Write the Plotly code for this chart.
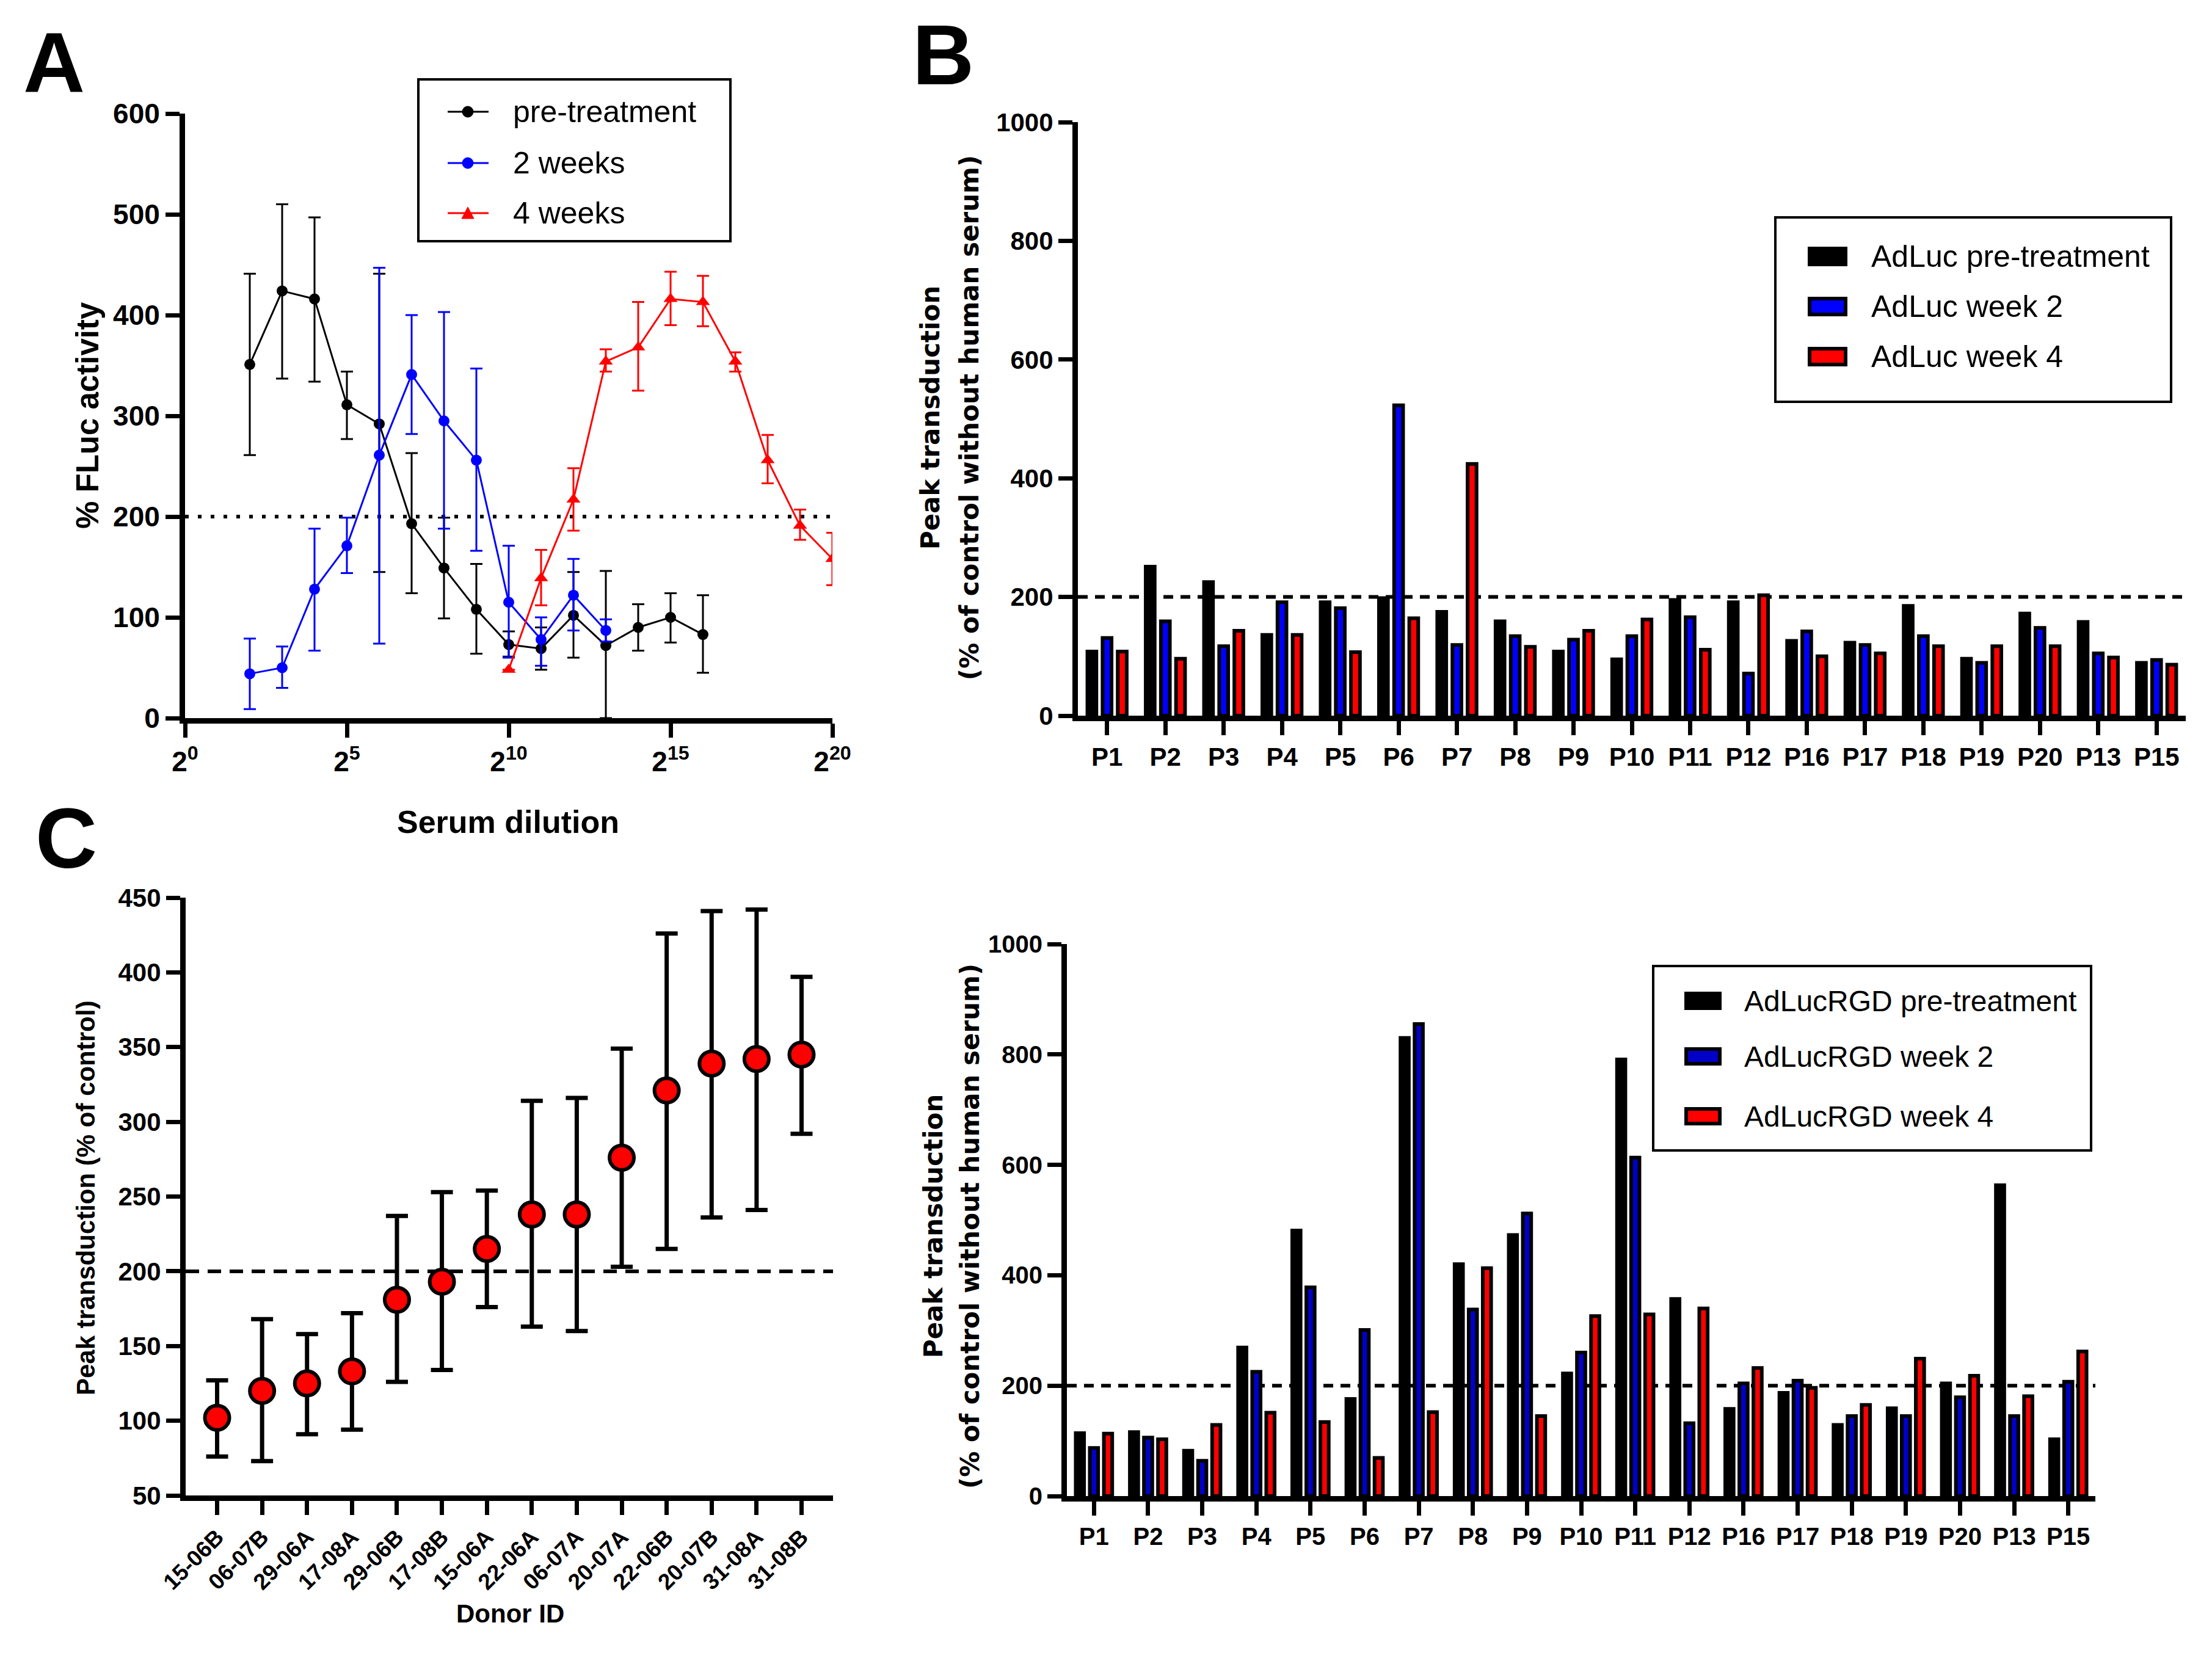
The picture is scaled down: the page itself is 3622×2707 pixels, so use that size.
import plotly.graph_objects as go

W, H = 3622, 2707


def X(px):
    return px / W


def Y(py):
    return 1 - py / H


FONT = "Liberation Sans, Arial, sans-serif"
WIDE = "DejaVu Sans, Verdana, sans-serif"

# ---- panel A: serum dilution curves (x = log2 of dilution) ----
pre_x = [2, 3, 4, 5, 6, 7, 8, 9, 10, 11, 12, 13, 14, 15, 16]
pre_y = [351, 424, 416, 311, 292, 193, 149, 108, 73, 69, 102, 72, 90, 100, 83]
pre_hi = [441, 510, 497, 344, 441, 263, 199, 153, 86, 90, 145, 146, 113, 124, 122]
pre_lo = [261, 337, 334, 277, 145, 124, 99, 64, 61, 48, 60, 0, 67, 75, 45]

wk2_x = [2, 3, 4, 5, 6, 7, 8, 9, 10, 11, 12, 13]
wk2_y = [44, 50, 128, 171, 261, 341, 295, 256, 115, 78, 122, 87]
wk2_hi = [79, 71, 188, 199, 447, 400, 403, 347, 171, 100, 158, 98]
wk2_lo = [9, 30, 67, 144, 74, 282, 188, 166, 60, 52, 87, 76]

wk4_x = [10, 11, 12, 13, 14, 15, 16, 17, 18, 19, 20]
wk4_y = [48, 139, 217, 354, 368, 416, 413, 354, 256, 191, 158]
wk4_hi = [48, 167, 248, 366, 413, 443, 439, 363, 281, 207, 184]
wk4_lo = [48, 112, 186, 344, 325, 390, 389, 344, 233, 177, 132]

a_tickvals = [0, 5, 10, 15, 20]
a_ticktext = ["2<sup>0</sup>", "2<sup>5</sup>", "2<sup>10</sup>", "2<sup>15</sup>", "2<sup>20</sup>"]

# ---- panels B and D: peak transduction per patient ----
patients = ["P1", "P2", "P3", "P4", "P5", "P6", "P7", "P8", "P9", "P10",
            "P11", "P12", "P16", "P17", "P18", "P19", "P20", "P13", "P15"]

adluc_pre = [108, 251, 225, 136, 191, 198, 175, 159, 108, 95,
             195, 191, 126, 123, 185, 96, 172, 158, 89]
adluc_wk2 = [131, 159, 117, 191, 181, 523, 119, 134, 128, 134,
             166, 71, 142, 119, 134, 89, 148, 105, 94]
adluc_wk4 = [108, 96, 143, 136, 107, 164, 424, 116, 143, 162,
             111, 203, 100, 105, 117, 117, 117, 98, 86]

rgd_pre = [114, 116, 82, 269, 481, 176, 830, 420, 473, 222,
           791, 357, 158, 187, 129, 159, 204, 563, 103]
rgd_wk2 = [87, 106, 64, 225, 378, 301, 855, 338, 512, 260,
           613, 132, 204, 209, 145, 145, 179, 145, 207]
rgd_wk4 = [113, 103, 129, 151, 134, 69, 152, 413, 145, 326,
           329, 340, 232, 196, 165, 249, 218, 181, 262]

# ---- panel C: peak transduction per donor ----
donors = ["15-06B", "06-07B", "29-06A", "17-08A", "29-06B", "17-08B", "15-06A",
          "22-06A", "06-07A", "20-07A", "22-06B", "20-07B", "31-08A", "31-08B"]
donor_mean = [102, 120, 125, 133, 181, 193, 215, 238, 238, 276, 321, 339, 342, 345]
donor_hi = [127, 168, 158, 172, 237, 253, 254, 314, 316, 349, 426, 441, 442, 397]
donor_lo = [76, 73, 91, 94, 126, 134, 176, 163, 160, 203, 215, 236, 241, 292]

fig = go.Figure()


def errs(mean, hi, lo):
    return dict(type="data", symmetric=False,
                array=[h - m for h, m in zip(hi, mean)],
                arrayminus=[m - l for m, l in zip(mean, lo)])


for xs, ys, hi, lo, col, sym, name in [
    (pre_x, pre_y, pre_hi, pre_lo, "black", "circle", "pre-treatment"),
    (wk2_x, wk2_y, wk2_hi, wk2_lo, "#0000ff", "circle", "2 weeks"),
    (wk4_x, wk4_y, wk4_hi, wk4_lo, "#ff0000", "triangle-up", "4 weeks"),
]:
    e = errs(ys, hi, lo)
    e.update(color=col, thickness=3, width=10)
    fig.add_trace(go.Scatter(
        x=xs, y=ys, name=name, mode="lines+markers",
        line=dict(color=col, width=3),
        marker=dict(color=col, symbol=sym, size=18 if sym == "circle" else 20),
        error_y=e, xaxis="x", yaxis="y", showlegend=False,
    ))

for vals, col, name in [(adluc_pre, "black", "AdLuc pre-treatment"),
                        (adluc_wk2, "#0000ff", "AdLuc week 2"),
                        (adluc_wk4, "#ff0000", "AdLuc week 4")]:
    fig.add_trace(go.Bar(x=patients, y=vals, name=name, xaxis="x2", yaxis="y2",
                         marker=dict(color=col, line=dict(color="black", width=6)),
                         showlegend=False))

for vals, col, name in [(rgd_pre, "black", "AdLucRGD pre-treatment"),
                        (rgd_wk2, "#0000c8", "AdLucRGD week 2"),
                        (rgd_wk4, "#ff0000", "AdLucRGD week 4")]:
    fig.add_trace(go.Bar(x=patients, y=vals, name=name, xaxis="x4", yaxis="y4",
                         marker=dict(color=col, line=dict(color="black", width=6)),
                         showlegend=False))

ec = errs(donor_mean, donor_hi, donor_lo)
ec.update(color="black", thickness=7, width=18)
fig.add_trace(go.Scatter(
    x=donors, y=donor_mean, mode="markers", xaxis="x3", yaxis="y3",
    marker=dict(color="#ff0000", size=40, line=dict(color="black", width=6)),
    error_y=ec, showlegend=False,
))

axis_style = dict(showline=True, linecolor="black", linewidth=9, ticks="outside",
                  ticklen=23, tickwidth=7, tickcolor="black", showgrid=False,
                  zeroline=False, mirror=False, automargin=False)


def tf(size):
    return dict(family=FONT, size=size, color="black", weight="bold")


fig.update_layout(
    width=W, height=H, margin=dict(l=0, r=0, t=0, b=0, pad=0),
    paper_bgcolor="white", plot_bgcolor="white",
    bargap=0.22, bargroupgap=0.41, barmode="group",
    xaxis=dict(axis_style, domain=[X(303), X(1363)], range=[0, 20], anchor="y",
               tickvals=a_tickvals, ticktext=a_ticktext, tickfont=tf(46)),
    yaxis=dict(axis_style, domain=[Y(1176), Y(186)], range=[0, 600], anchor="x",
               dtick=100, tickfont=tf(46)),
    xaxis2=dict(axis_style, domain=[X(1765), X(3579)], range=[-0.5, 18.5], anchor="y2",
                tickfont=tf(42)),
    yaxis2=dict(axis_style, domain=[Y(1172), Y(200)], range=[0, 1000], anchor="x2",
                dtick=200, tickfont=tf(42)),
    xaxis3=dict(axis_style, domain=[X(304), X(1364)], range=[-0.7, 13.7], anchor="y3",
                tickangle=-45, tickfont=tf(37)),
    yaxis3=dict(axis_style, domain=[Y(2449), Y(1470)], range=[50, 450], anchor="x3",
                dtick=50, tickfont=tf(42)),
    xaxis4=dict(axis_style, domain=[X(1747), X(3431)], range=[-0.5, 18.5], anchor="y4",
                tickfont=tf(40)),
    yaxis4=dict(axis_style, domain=[Y(2450), Y(1546)], range=[0, 1000], anchor="x4",
                dtick=200, tickfont=tf(40)),
)

# threshold lines at 200
for xa, ya, dash in [("x", "y", "6px,15px"), ("x2", "y2", "16px,12px"),
                     ("x3", "y3", "22px,14px"), ("x4", "y4", "16px,12px")]:
    fig.add_shape(type="line", xref=xa + " domain", yref=ya, x0=0, x1=1, y0=200, y1=200,
                  line=dict(color="black", width=6, dash=dash), layer="below")

shapes = []
annots = []


def text(x, y, s, size, family=FONT, bold=True, angle=0, xanchor="center"):
    annots.append(dict(x=X(x), y=Y(y), xref="paper", yref="paper", text=s, showarrow=False,
                       textangle=angle, xanchor=xanchor, yanchor="middle",
                       font=dict(family=family, size=size, color="black",
                                 weight="bold" if bold else "normal")))


def rect(x0, y0, x1, y1, fill="rgba(0,0,0,0)", lw=4):
    shapes.append(dict(type="rect", xref="paper", yref="paper", x0=X(x0), x1=X(x1),
                       y0=Y(y0), y1=Y(y1), fillcolor=fill, line=dict(color="black", width=lw)))


# panel letters and axis titles
text(88, 102, "A", 140)
text(1544, 90, "B", 140)
text(108, 1373, "C", 140)
text(832, 1346, "Serum dilution", 52)
text(144, 680, "% FLuc activity", 51, angle=-90)
text(835, 2642, "Donor ID", 42)
text(140, 1962, "Peak transduction (% of control)", 42, angle=-90)
for cy in (684, 2008):
    text(1523 if cy < 1000 else 1528, cy, "Peak transduction", 42, family=WIDE, angle=-90)
    text(1587 if cy < 1000 else 1588, cy, "(% of control without human serum)", 42,
         family=WIDE, angle=-90)

# legend A
rect(685, 130, 1196, 395)
for cy, col, sym, lab in [(183, "black", "circle", "pre-treatment"),
                          (267, "#0000ff", "circle", "2 weeks"),
                          (349, "#ff0000", "triangle", "4 weeks")]:
    shapes.append(dict(type="line", xref="paper", yref="paper", x0=X(733), x1=X(800),
                       y0=Y(cy), y1=Y(cy), line=dict(color=col, width=3)))
    if sym == "circle":
        shapes.append(dict(type="circle", xref="paper", yref="paper", x0=X(757), x1=X(775),
                           y0=Y(cy + 9), y1=Y(cy - 9), fillcolor=col, line=dict(color=col, width=1)))
    else:
        path = "M %f %f L %f %f L %f %f Z" % (X(756), Y(cy + 9), X(776), Y(cy + 9), X(766), Y(cy - 10))
        shapes.append(dict(type="path", xref="paper", yref="paper", path=path,
                           fillcolor=col, line=dict(color=col, width=1)))
    text(838, cy, lab, 50, bold=False, xanchor="left")

# legend B
rect(2907, 356, 3555, 658)
for cy, col, lab in [(420, "black", "AdLuc pre-treatment"),
                     (502, "#0000ff", "AdLuc week 2"),
                     (584, "#ff0000", "AdLuc week 4")]:
    rect(2963, cy - 13, 3022, cy + 13, fill=col, lw=6)
    text(3062, cy, lab, 50, bold=False, xanchor="left")

# legend D
rect(2707, 1582, 3424, 1884)
for cy, col, lab in [(1639, "black", "AdLucRGD pre-treatment"),
                     (1730, "#0000c8", "AdLucRGD week 2"),
                     (1828, "#ff0000", "AdLucRGD week 4")]:
    rect(2761, cy - 12, 2816, cy + 12, fill=col, lw=6)
    text(2854, cy, lab, 48, bold=False, xanchor="left")

for s in shapes:
    fig.add_shape(**s)
fig.update_layout(annotations=annots)

# drop the default page margin so the figure starts at the window corner
fig.write_html("out.html", config={"displayModeBar": False},
               post_script="document.body.style.margin = '0px';")
